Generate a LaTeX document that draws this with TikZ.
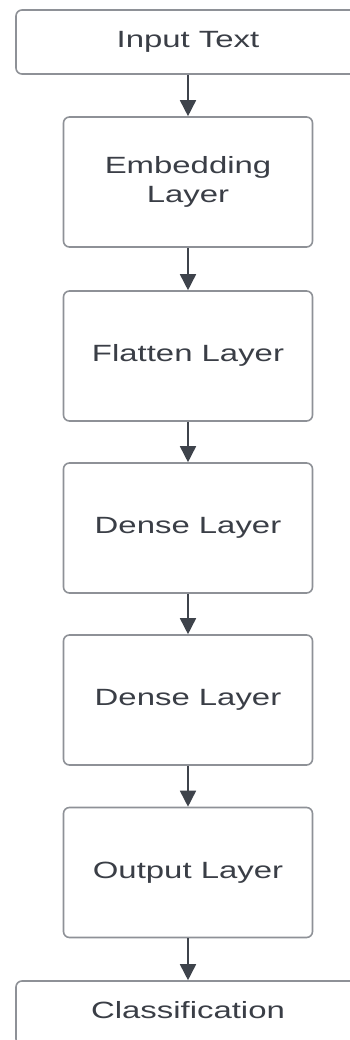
\documentclass[tikz,border=0pt]{standalone}
\usepackage{fontspec}
\setmainfont{Liberation Sans}
\usetikzlibrary{arrows.meta}

\definecolor{boxgray}{RGB}{142,145,151}
\definecolor{arrowdark}{RGB}{62,67,75}
\definecolor{labelgray}{RGB}{58,62,70}

% labels are set wide, in a stretched sans face
\newcommand{\wtext}[1]{\scalebox{1.4}[1]{\begin{tabular}{@{}c@{}}#1\end{tabular}}}

\tikzset{
  layerbox/.style={draw=boxgray, line width=1.6pt, rounded corners=6pt,
    minimum width=249pt, minimum height=130pt, inner sep=0pt,
    text=labelgray, font=\fontsize{23.5}{29}\selectfont},
  endbox/.style={layerbox, minimum width=344pt, minimum height=64pt},
  flow/.style={draw=arrowdark, line width=1.6pt,
    -{Triangle[width=16pt,length=16pt]}}
}

\begin{document}
\begin{tikzpicture}[x=1pt,y=-1pt]
\useasboundingbox (0,0) rectangle (350,1040);
\fill[white] (0,0) rectangle (350,1040);

\node[endbox]   (input)  at (188,42)    {\wtext{Input Text}};
\node[layerbox] (embed)  at (188,182)   {\wtext{Embedding\\Layer}};
\node[layerbox] (flat)   at (188,356)   {\wtext{Flatten Layer}};
\node[layerbox] (dense1) at (188,528)   {\wtext{Dense Layer}};
\node[layerbox] (dense2) at (188,700)   {\wtext{Dense Layer}};
\node[layerbox] (output) at (188,872.5) {\wtext{Output Layer}};
\node[endbox]   (class)  at (188,1013)  {\wtext{Classification}};

\draw[flow] (input)  -- (embed);
\draw[flow] (embed)  -- (flat);
\draw[flow] (flat)   -- (dense1);
\draw[flow] (dense1) -- (dense2);
\draw[flow] (dense2) -- (output);
\draw[flow] (output) -- (class);
\end{tikzpicture}
\end{document}
